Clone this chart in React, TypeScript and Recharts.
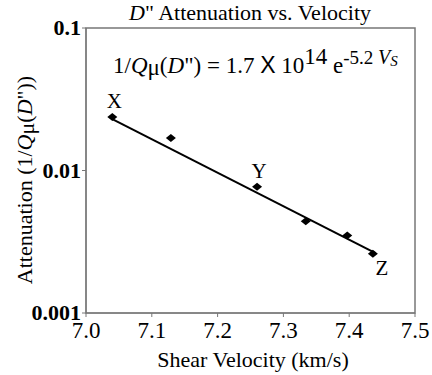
import { Customized, LabelList, Scatter, ScatterChart, XAxis, YAxis } from 'recharts';

const velocity = [7.04, 7.129, 7.26, 7.334, 7.397, 7.436];
const attenuation = [0.0237, 0.0169, 0.0077, 0.0044, 0.0035, 0.0026];
const pointNames = ['X', '', 'Y', '', '', 'Z'];
const fitVelocity = [7.04, 7.44];
const fitAttenuation = [0.0229, 0.00263];
const xTicks = [7.0, 7.1, 7.2, 7.3, 7.4, 7.5];
const yTicks = [0.001, 0.01, 0.1];

const points = velocity.map((v, i) => ({ x: v, y: attenuation[i], name: pointNames[i] }));
const fitLine = fitVelocity.map((v, i) => ({ x: v, y: fitAttenuation[i] }));

const FONT = '"Liberation Serif", "Times New Roman", serif';

function Diamond(props: { cx?: number; cy?: number }) {
  const { cx, cy } = props;
  if (cx === undefined || cy === undefined) return null;
  return <polygon points={`${cx - 5},${cy} ${cx},${cy - 4} ${cx + 5},${cy} ${cx},${cy + 4}`} fill="#000" />;
}

function PointLabel(props: { x?: number; y?: number; width?: number; height?: number; value?: string; index?: number }) {
  const { x, y, width = 0, height = 0, value, index } = props;
  if (!value || x === undefined || y === undefined) return null;
  const cx = Number(x) + Number(width) / 2;
  const cy = Number(y) + Number(height) / 2;
  const dx = index === 5 ? 9 : 2;
  const dy = index === 5 ? 21 : -9;
  return (
    <text x={cx + dx} y={cy + dy} textAnchor="middle" style={{ fontFamily: FONT, fontSize: 21 }} fill="#000">
      {value}
    </text>
  );
}

function XTick(props: { x?: number; y?: number; payload?: { value: number } }) {
  const { x = 0, y = 0, payload } = props;
  return (
    <text x={x} y={y + 19} textAnchor="middle" style={{ fontFamily: FONT, fontSize: 23 }} fill="#000">
      {payload ? payload.value.toFixed(1) : ''}
    </text>
  );
}

function YTick(props: { x?: number; y?: number; payload?: { value: number } }) {
  const { x = 0, y = 0, payload } = props;
  return (
    <text x={x + 1} y={y + 7} textAnchor="end" style={{ fontFamily: FONT, fontSize: 22, fontWeight: 600 }} fill="#000">
      {payload ? String(payload.value) : ''}
    </text>
  );
}

function Annotations() {
  const t = { fontFamily: FONT };
  return (
    <g fill="#000">
      <rect x={86} y={28} width={329} height={285} fill="none" stroke="#777" strokeWidth={1.5} />
      <text x={250} y={20} textAnchor="middle" style={{ ...t, fontSize: 22 }}>
        <tspan fontStyle="italic">D</tspan>" Attenuation vs. Velocity
      </text>
      <text x={113} y={73} style={{ ...t, fontSize: 23 }}>
        1/<tspan fontStyle="italic">Q</tspan>
        <tspan dy={2}>μ</tspan>
        <tspan dy={-2}>(</tspan>
        <tspan fontStyle="italic">D</tspan>") = 1.7 <tspan style={{ fontFamily: '"Liberation Sans", sans-serif' }}>X</tspan> 10
        <tspan dy={-9}>14</tspan>
        <tspan dy={9}> e</tspan>
        <tspan dy={-9} fontSize={19}>-5.2 </tspan>
        <tspan fontSize={20} fontStyle="italic">V</tspan>
        <tspan fontSize={15} fontStyle="italic" dy={2}>S</tspan>
      </text>
      <text x={253} y={367} textAnchor="middle" style={{ ...t, fontSize: 22 }}>
        Shear Velocity (km/s)
      </text>
      <text x={0} y={0} transform="translate(32,180) rotate(-90)" textAnchor="middle" style={{ ...t, fontSize: 22 }}>
        Attenuation (1/<tspan fontStyle="italic">Q</tspan>
        <tspan dy={2}>μ</tspan>
        <tspan dy={-2}>(</tspan>
        <tspan fontStyle="italic">D</tspan>"))
      </text>
    </g>
  );
}

export default function App() {
  return (
    <div style={{ position: 'absolute', left: 0, top: 0, width: 432, height: 375, background: '#fff' }}>
      <ScatterChart width={432} height={375} margin={{ top: 28, right: 17, bottom: 0, left: 0 }}>
        <XAxis
          type="number"
          dataKey="x"
          domain={[7.0, 7.5]}
          ticks={xTicks}
          height={62}
          tickSize={4}
          stroke="#777"
          tick={<XTick />}
          allowDataOverflow
        />
        <YAxis
          type="number"
          dataKey="y"
          scale="log"
          domain={[0.001, 0.1]}
          ticks={yTicks}
          width={86}
          tickSize={4}
          stroke="#777"
          tick={<YTick />}
          allowDataOverflow
        />
        <Scatter
          data={fitLine}
          line={{ stroke: '#000', strokeWidth: 2 }}
          shape={() => null}
          isAnimationActive={false}
        />
        <Scatter data={points} shape={<Diamond />} isAnimationActive={false}>
          <LabelList dataKey="name" content={<PointLabel />} />
        </Scatter>
        <Customized component={Annotations} />
      </ScatterChart>
    </div>
  );
}
